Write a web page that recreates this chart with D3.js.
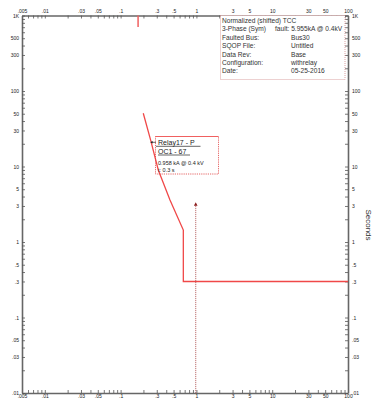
<!DOCTYPE html>
<html><head><meta charset="utf-8">
<script src="https://cdn.jsdelivr.net/npm/d3@7"></script>
<style>body{margin:0;background:#fff}svg{display:block}text{font-family:"Liberation Sans",Arial,sans-serif}</style>
</head><body>
<svg id="c" width="374" height="400"></svg>
<script>
// ---- data ----
const xLabelVals = [0.005,0.01,0.03,0.05,0.1,0.3,0.5,1,3,5,10,30,50,100];
const xLabelText = [".005",".01",".03",".05",".1",".3",".5","1","3","5","10","30","50","100"];
const yLabelVals = [0.01,0.03,0.05,0.1,0.3,0.5,1,3,5,10,30,50,100,300,500,1000];
const yLabelText = [".01",".03",".05",".1",".3",".5","1","3","5","10","30","50","100","300","500","1K"];
// relay curve (current multiple, seconds)
const curveX = [0.199,0.249,0.314,0.448,0.672,0.672,100];
const curveY = [50.7,22.4,9.0,3.6,1.44,0.3,0.3];
// short mark at the top
const topMarkX = [0.17,0.17];
const topMarkY = [1000,704];
// fault marker
const faultX = 0.98;
const faultTop = 3.2;
const legendLeft = ["Normalized (shifted) TCC","3-Phase (Sym)","Faulted  Bus:","SQOP  File:","Data  Rev:","Configuration:","Date:"];
const legendRight = ["","fault: 5.955kA @ 0.4kV","Bus30","Untitled","Base","withrelay","05-25-2016"];
const relayTitle = ["Relay17 - P","OC1 - 67"];
const relayInfo = ["0.958 kA @ 0.4 kV","t: 0.3 s"];

// ---- chart ----
const svg = d3.select("#c");
const L=22,R=348,T=15.5,B=393;
const x = d3.scaleLog().domain([0.005,100]).range([L,R]);
const y = d3.scaleLog().domain([0.01,1000]).range([B,T]);

function minorTicks(lo,hi){
  const out=[];
  for(let e=Math.floor(Math.log10(lo));e<=Math.ceil(Math.log10(hi));e++){
    for(let m=1;m<10;m++){const v=m*Math.pow(10,e); if(v>=lo*0.999&&v<=hi*1.001) out.push(+v.toPrecision(6));}
  }
  return out;
}
const xt = minorTicks(0.005,100), yt = minorTicks(0.01,1000);
const fmt = (vals,txt)=> v=>{const i=vals.findIndex(a=>Math.abs(a-v)/a<1e-6);return i>=0?txt[i]:"";};
const fx = fmt(xLabelVals,xLabelText), fy = fmt(yLabelVals,yLabelText);

function style(g){
  g.select(".domain").attr("stroke","#666").attr("stroke-width",1.6);
  g.selectAll(".tick line").attr("stroke","#555").attr("stroke-width",0.8);
  g.selectAll(".tick text").attr("fill","#222").style("font-size","5px").style("font-family","'Liberation Sans',Arial,sans-serif");
}
svg.append("g").attr("transform",`translate(0,${T})`)
  .call(d3.axisTop(x).tickValues(xt).tickFormat(fx).tickSizeInner(-3).tickSizeOuter(0).tickPadding(3)).call(style);
svg.append("g").attr("transform",`translate(0,${B})`)
  .call(d3.axisBottom(x).tickValues(xt).tickFormat(fx).tickSizeInner(-3).tickSizeOuter(0).tickPadding(1.8)).call(style);
svg.append("g").attr("transform",`translate(${L},0)`)
  .call(d3.axisLeft(y).tickValues(yt).tickFormat(fy).tickSizeInner(-3).tickSizeOuter(0).tickPadding(3)).call(style);
svg.append("g").attr("transform",`translate(${R},0)`)
  .call(d3.axisRight(y).tickValues(yt).tickFormat(fy).tickSizeInner(-3).tickSizeOuter(0).tickPadding(4)).call(style);

svg.append("text").attr("transform",`translate(366,225) rotate(90)`).attr("text-anchor","middle")
  .style("font-size","8px").attr("fill","#333").text("Seconds");

// curve
const line = d3.line().x(d=>x(d[0])).y(d=>y(d[1]));
svg.append("path").datum(curveX.map((v,i)=>[v,curveY[i]])).attr("d",line)
  .attr("fill","none").attr("stroke","#f04848").attr("stroke-width",1.3);
svg.append("path").datum(topMarkX.map((v,i)=>[v,topMarkY[i]])).attr("d",line)
  .attr("fill","none").attr("stroke","#f06060").attr("stroke-width",1.5);

// fault marker
svg.append("line").attr("x1",x(faultX)).attr("x2",x(faultX)).attr("y1",y(faultTop)+2).attr("y2",B)
  .attr("stroke","#a03030").attr("stroke-width",0.8).attr("stroke-dasharray","1,1");
const fxp=x(faultX), fyp=y(faultTop);
svg.append("path").attr("d",`M${fxp},${fyp-1.5}L${fxp-1.8},${fyp+2}L${fxp+1.8},${fyp+2}Z`).attr("fill","#8b1a1a");

// legend box
svg.append("rect").attr("x",220.5).attr("y",T).attr("width",124.5).attr("height",64)
  .attr("fill","#fff").attr("stroke","#d08a8a").attr("stroke-width",0.8).attr("stroke-dasharray","1,1");
legendLeft.forEach((t,i)=>{
  svg.append("text").attr("x",222).attr("y",22.7+i*8.45).style("font-size","6.6px").attr("fill","#333").text(t);
});
legendRight.forEach((t,i)=>{
  if(!t) return;
  svg.append("text").attr("x",i===1?275:291).attr("y",22.7+i*8.45).style("font-size","6.6px").attr("fill","#333").text(t);
});

// relay label box
const bx=155.5,by=136.5,bw=63,bh=37.5;
svg.append("rect").attr("x",bx).attr("y",by).attr("width",bw).attr("height",bh)
  .attr("fill","#fff").attr("fill-opacity",0).attr("stroke","#e04040").attr("stroke-width",0.8).attr("stroke-dasharray","1.2,1");
svg.append("line").attr("x1",bx).attr("x2",bx+bw).attr("y1",by).attr("y2",by).attr("stroke","#f06060").attr("stroke-width",1);
svg.append("line").attr("x1",156).attr("x2",151).attr("y1",142.3).attr("y2",142.3).attr("stroke","#222").attr("stroke-width",0.7);
svg.append("path").attr("d","M150.3,142.3L152.6,141L152.6,143.6Z").attr("fill","#222");
relayTitle.forEach((t,i)=>{
  svg.append("text").attr("x",158).attr("y",144.8+i*8.8).style("font-size","7px").attr("fill","#222").text(t);
});
svg.append("line").attr("x1",156).attr("x2",200.5).attr("y1",146.3).attr("y2",146.3).attr("stroke","#222").attr("stroke-width",0.7);
svg.append("line").attr("x1",158).attr("x2",190).attr("y1",155).attr("y2",155).attr("stroke","#222").attr("stroke-width",0.7);
relayInfo.forEach((t,i)=>{
  svg.append("text").attr("x",158).attr("y",165.3+i*6.2).style("font-size","5.5px").attr("fill","#222").text(t);
});
</script>
</body></html>
